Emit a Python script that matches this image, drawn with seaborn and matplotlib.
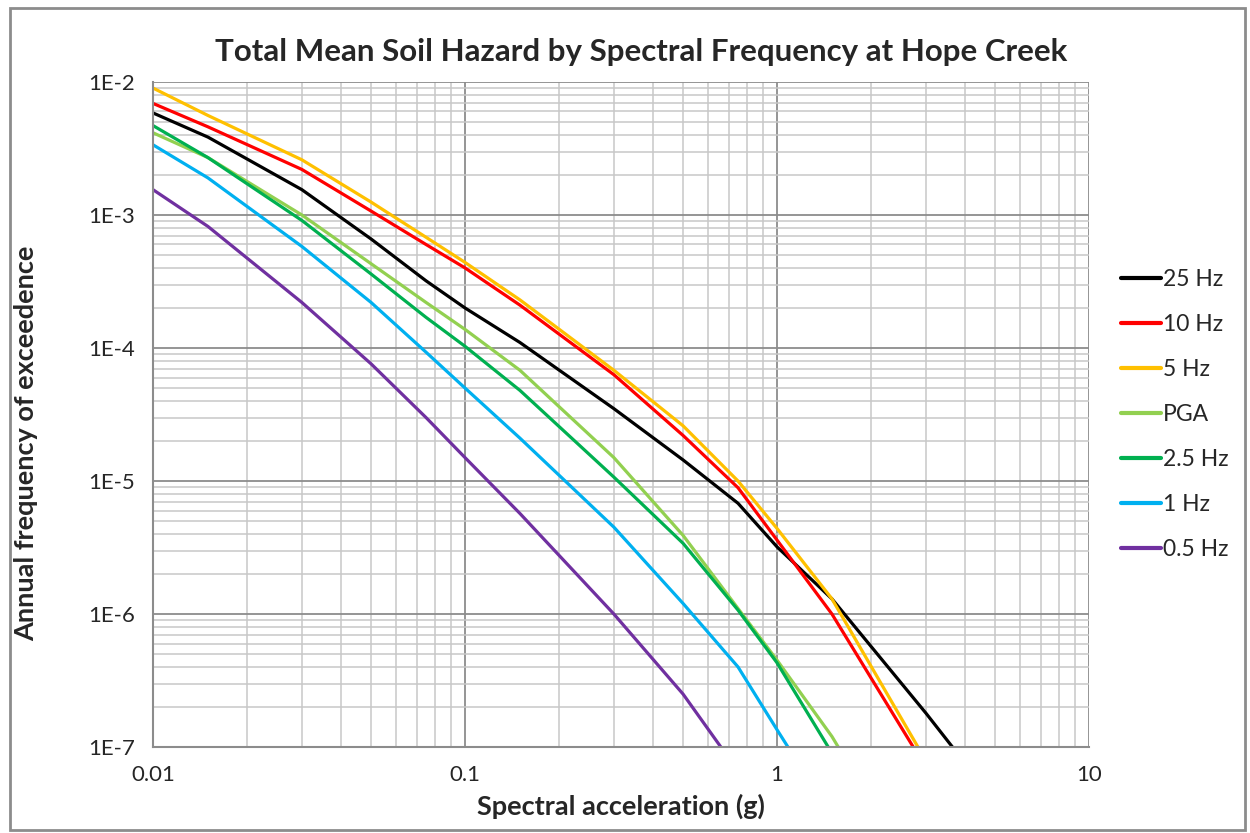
import numpy as np
import pandas as pd
import matplotlib
matplotlib.use('Agg')
import matplotlib.pyplot as plt
import seaborn as sns
from matplotlib.patches import Rectangle
from matplotlib.ticker import LogLocator, NullFormatter, FixedLocator

# Ускорения (g) и средние частоты превышения для каждой кривой
accel = [0.01, 0.015, 0.03, 0.05, 0.075, 0.1, 0.15, 0.3, 0.5, 0.75, 1.0, 1.5, 3.0, 5.0]

hz25 = [5.85e-3, 3.85e-3, 1.55e-3, 6.6e-4, 3.2e-4, 2.0e-4, 1.1e-4, 3.5e-5, 1.44e-5, 6.8e-6, 3.2e-6, 1.3e-6, 1.8e-7, 3.9e-8]
hz10 = [6.9e-3, 4.6e-3, 2.2e-3, 1.07e-3, 6.0e-4, 4.0e-4, 2.1e-4, 6.3e-5, 2.2e-5, 8.9e-6, 3.6e-6, 1.0e-6, 7.0e-8]
hz5 = [9.0e-3, 5.6e-3, 2.6e-3, 1.25e-3, 6.8e-4, 4.4e-4, 2.3e-4, 6.8e-5, 2.6e-5, 1.0e-5, 4.4e-6, 1.3e-6, 7.9e-8]
pga = [4.15e-3, 2.7e-3, 1.0e-3, 4.3e-4, 2.2e-4, 1.38e-4, 6.8e-5, 1.5e-5, 3.9e-6, 1.1e-6, 4.5e-7, 1.2e-7, 8.0e-9]
hz2_5 = [4.7e-3, 2.7e-3, 9.1e-4, 3.6e-4, 1.7e-4, 1.03e-4, 4.8e-5, 1.07e-5, 3.4e-6, 1.07e-6, 4.3e-7, 9.0e-8]
hz1 = [3.37e-3, 1.9e-3, 5.8e-4, 2.2e-4, 9.3e-5, 5.0e-5, 2.1e-5, 4.5e-6, 1.2e-6, 4.0e-7, 1.35e-7, 3.0e-8]
hz0_5 = [1.55e-3, 8.2e-4, 2.2e-4, 7.6e-5, 3.0e-5, 1.5e-5, 5.7e-6, 1.0e-6, 2.5e-7, 6.6e-8]

series = {
    '25 Hz': hz25,
    '10 Hz': hz10,
    '5 Hz': hz5,
    'PGA': pga,
    '2.5 Hz': hz2_5,
    '1 Hz': hz1,
    '0.5 Hz': hz0_5,
}
colors = {
    '25 Hz': '#000000',
    '10 Hz': '#FF0000',
    '5 Hz': '#FFC000',
    'PGA': '#92D050',
    '2.5 Hz': '#00B050',
    '1 Hz': '#00B0F0',
    '0.5 Hz': '#7030A0',
}

rows = []
for name, vals in series.items():
    for x, y in zip(accel, vals):
        rows.append({'accel': x, 'freq': y, 'curve': name})
df = pd.DataFrame(rows)

sns.set_style("white")
plt.rcParams['font.family'] = ['Lato', 'DejaVu Sans']

fig = plt.figure(figsize=(12.5, 8.33), dpi=100)
ax = fig.add_axes([0.1224, 0.1032, 0.8712 - 0.1224, 0.9016 - 0.1032])

sns.lineplot(data=df, x='accel', y='freq', hue='curve', hue_order=list(series.keys()),
             palette=colors, linewidth=2.3, sort=False, estimator=None, ax=ax)

ax.set_xscale('log')
ax.set_yscale('log')
ax.set_xlim(0.01, 10)
ax.set_ylim(1e-7, 1e-2)

# Сетка: основные линии темнее, дополнительные светлее
ax.xaxis.set_minor_locator(LogLocator(base=10, subs=np.arange(2, 10)))
ax.yaxis.set_minor_locator(LogLocator(base=10, subs=np.arange(2, 10)))
ax.xaxis.set_minor_formatter(NullFormatter())
ax.yaxis.set_minor_formatter(NullFormatter())
ax.grid(which='major', color='#8C8C8C', linewidth=1.3)
ax.grid(which='minor', color='#C8C8C8', linewidth=1.1)
ax.set_axisbelow(True)

ax.xaxis.set_major_locator(FixedLocator([0.01, 0.1, 1, 10]))
ax.set_xticklabels(['0.01', '0.1', '1', '10'])
ax.yaxis.set_major_locator(FixedLocator([1e-7, 1e-6, 1e-5, 1e-4, 1e-3, 1e-2]))
ax.set_yticklabels(['1E-7', '1E-6', '1E-5', '1E-4', '1E-3', '1E-2'])
ax.tick_params(axis='both', which='major', direction='out', length=7, width=1.2,
               color='#8C8C8C', labelsize=16, pad=6)
ax.tick_params(axis='both', which='minor', length=0)

for side in ['left', 'bottom']:
    ax.spines[side].set_color('#8C8C8C')
    ax.spines[side].set_linewidth(1.5)
for side in ['top', 'right']:
    ax.spines[side].set_visible(False)

fig.text(0.513, 1 - 52 / 833, 'Total Mean Soil Hazard by Spectral Frequency at Hope Creek',
         fontsize=22.5, fontweight='bold', ha='center', va='center')
ax.set_xlabel('Spectral acceleration (g)', fontsize=19.5, fontweight='bold', labelpad=6)
ax.set_ylabel('Annual frequency of exceedence', fontsize=19.5, fontweight='bold')
ax.yaxis.set_label_coords(-0.123, 0.456)

leg = ax.legend(loc='center left', bbox_to_anchor=(1.012, 0.5), frameon=False,
                fontsize=16.5, handlelength=1.75, handletextpad=0.1, labelspacing=1.05)
for line in leg.get_lines():
    line.set_linewidth(3.0)

# Рамка области диаграммы как в Excel
fig.patches.append(Rectangle((0.008, 0.004), 0.988, 0.986, transform=fig.transFigure,
                             fill=False, edgecolor='#8C8C8C', linewidth=2.0))

plt.savefig('out.png', dpi=100)
